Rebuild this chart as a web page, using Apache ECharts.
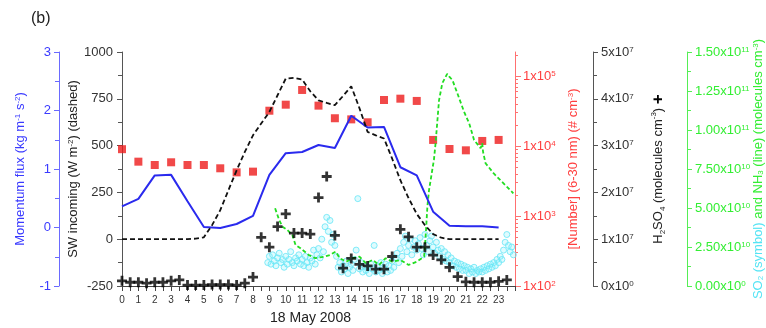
<!DOCTYPE html>
<html>
<head>
<meta charset="utf-8">
<script src="https://cdn.jsdelivr.net/npm/echarts@6/dist/echarts.min.js"></script>
<style>html,body{margin:0;padding:0;background:#fff}#c{width:766px;height:328px}</style>
</head>
<body>
<div id="c"></div>
<script>
// ---- data ----
var hourTicks = [0,1,2,3,4,5,6,7,8,9,10,11,12,13,14,15,16,17,18,19,20,21,22,23];
var numberMajorTicks = [100,1000,10000,100000];
var numberMinorTicks = [200,300,400,500,600,700,800,900,2000,3000,4000,5000,6000,7000,8000,9000,20000,30000,40000,50000,60000,70000,80000,90000,200000];
var momentumHours = [0,1,2,3,4,5,6,7,8,9,10,11,12,13,14,15,16,17,18,19,20,21,22,23];
var momentumValues = [0.36,0.49,0.89,0.90,0.45,0.01,-0.01,0.06,0.20,0.90,1.27,1.29,1.41,1.36,1.91,1.71,1.72,1.03,0.89,0.27,0.03,0.02,0.02,0.00];
var swHours = [0,1,2,3,4,4.5,5,5.5,6,6.5,7,7.5,8,8.5,9,9.5,10,10.5,11,11.5,12,12.5,13,13.5,14,14.5,15,15.5,16,16.5,17,17.5,18,18.5,19,19.5,20,21,22,23];
var swValues = [0,0,0,0,0,3,10,75,155,262,368,466,555,618,680,769,858,862,853,790,742,728,716,765,817,700,573,555,538,430,315,220,135,75,27,8,0,0,0,0];
var numberHours = [0,1,2,3,4,5,6,7,8,9,10,11,12,13,14,15,16,17,18,19,20,21,22,23];
var numberValues = [9000,5970,5350,5850,5350,5350,4800,4200,4300,31900,38900,63100,37700,24900,24000,21800,45400,47400,44000,12200,9060,8670,11800,12200];
var h2so4Hours = [0,0.5,1,1.5,2,2.5,3,3.5,4,4.5,5,5.5,6,6.5,7,7.5,8,8.5,9,9.5,10,10.5,11,11.5,12,12.5,13,13.5,14,14.5,15,15.5,16,16.5,17,17.5,18,18.5,19,19.5,20,20.5,21,21.5,22,22.5,23,23.5];
var h2so4Values = [0.11,0.08,0.08,0.06,0.08,0.08,0.11,0.13,0.02,0.02,0.02,0.03,0.03,0.03,0.02,0.06,0.19,1.04,0.83,1.27,1.54,1.13,1.13,1.11,1.89,2.34,1.08,0.38,0.59,0.46,0.43,0.36,0.36,0.63,1.21,1.05,0.83,0.83,0.66,0.56,0.40,0.20,0.09,0.08,0.08,0.08,0.10,0.13]; // x1e7
var nh3Hours = [9.35,9.6,9.8,10.1,10.4,10.6,10.9,11.4,11.8,12.35,12.7,13.05,13.3,13.7,14.1,14.5,14.9,15.3,15.7,16.1,16.5,17.0,17.5,18.0,18.45,18.55,18.65,18.75,19.05,19.15,19.36,19.56,19.86,20.0,20.18,20.48,20.89,21.2,21.5,21.9,22.0,22.05,22.2,22.7,23.3,23.9];
var nh3Values = [4.98,4.23,3.8,3.59,3.27,2.63,2.42,1.99,1.78,1.88,1.99,2.2,1.78,1.56,1.78,1.88,1.46,1.67,1.35,1.78,1.56,1.67,1.35,1.56,1.88,3.3,5.1,6.15,8.1,9.15,11.9,13.0,13.6,13.4,13.2,12.35,11.17,10.43,9.36,8.83,9.15,8.6,7.87,7.22,6.58,5.94]; // x1e10
var so2Start = 8.9, so2Step = 0.1;
var so2Values = [ // x1e10
 1.5,1.9,1.4,2.0,1.6,1.3,1.8,2.1,1.5,1.7,1.2,
 1.9,1.4,1.7,2.2,1.5,1.3,1.8,1.6,2.0,1.4,
 1.7,1.3,1.9,1.5,1.2,1.8,1.6,2.3,1.4,2.0,
 2.4,1.8,3.0,2.2,3.8,4.4,3.5,4.2,2.8,3.3,
 2.6,1.9,1.2,1.5,0.9,1.3,1.1,1.6,0.8,1.2,
 1.4,1.0,1.7,2.3,5.6,1.1,1.5,0.9,1.3,1.0,
 1.2,0.8,1.4,1.1,2.6,0.9,1.3,1.0,1.5,0.8,
 1.1,1.4,0.9,1.3,1.0,1.6,1.2,1.8,2.1,1.5,
 2.4,1.9,2.8,3.2,2.2,2.6,3.0,2.0,2.5,2.9,
 2.3,2.7,3.1,2.4,2.0,3.3,2.6,2.2,2.9,3.2,
 2.5,2.1,2.8,2.3,1.9,2.4,1.7,2.2,1.6,2.0,
 1.5,1.8,1.3,1.6,1.2,1.5,1.1,1.4,1.0,1.3,
 1.0,1.2,0.8,1.1,0.9,1.2,0.8,1.0,0.9,1.1,
 0.9,1.2,1.0,1.3,1.1,1.4,1.2,1.5,1.3,1.7,
 1.5,1.9,1.7,2.3,2.8,3.3,2.6,2.2,2.5,2.0];

function pairs(xs, ys){ return xs.map(function(x,i){ return [x, ys[i]]; }); }
var so2Data = so2Values.map(function(v,i){ return [+(so2Start + i*so2Step).toFixed(2), v]; });

var FONT = '"Liberation Sans", Arial, sans-serif';
var BLUE = '#3a3aff', BLUEAX = '#6a6aff';
var RED = '#ee1c1c', REDAX = '#ff7070', REDLB = '#ff4040';
var GREEN = '#22dd22', GREENAX = '#55ee55', GREENLB = '#33ee33';
var CYAN = '#66e6f6';
var DARK = '#333';

function supRich(color, size){
  return {
    a: {fontSize: size, color: color, fontFamily: FONT},
    s: {fontSize: Math.round(size*0.65), color: color, fontFamily: FONT, verticalAlign: 'top'}
  };
}
function axisBase(color, lineColor){
  return {
    nameMoveOverlap: false,
    axisLine: {show: true, onZero: false, lineStyle: {color: lineColor, width: 1}},
    axisTick: {show: true, length: 5, lineStyle: {color: lineColor}},
    minorTick: {show: true, splitNumber: 2, length: 4, lineStyle: {color: lineColor}},
    splitLine: {show: false},
    minorSplitLine: {show: false}
  };
}

var yMom = Object.assign(axisBase(BLUE, BLUEAX), {
  type: 'value', position: 'left', offset: 63, min: -1, max: 3, interval: 1,
  axisLabel: {color: BLUE, fontSize: 13, fontFamily: FONT, margin: 8},
  name: '{n|Momentum flux (kg m}{s|-1}{n| s}{s|-2}{n|)}', nameLocation: 'middle', nameGap: 32,
  nameTextStyle: {rich: {n: {fontSize: 13, color: BLUE, fontFamily: FONT}, s: {fontSize: 8, color: BLUE, fontFamily: FONT, verticalAlign: 'top'}}}
});
var ySW = Object.assign(axisBase(DARK, '#555'), {
  type: 'value', position: 'left', offset: 0, min: -250, max: 1000, interval: 250,
  axisLabel: {color: DARK, fontSize: 13, fontFamily: FONT, margin: 9, formatter: function(v){ return String(v); }},
  name: '{n|SW incoming (W m}{s|-2}{n|) (dashed)}', nameLocation: 'middle', nameGap: 42,
  nameTextStyle: {rich: {n: {fontSize: 13, color: '#222', fontFamily: FONT}, s: {fontSize: 8, color: '#222', fontFamily: FONT, verticalAlign: 'top'}}}
});
var yNum = Object.assign(axisBase(RED, REDAX), {
  type: 'log', logBase: 10, position: 'right', offset: 0, min: 100, max: 220000,
  axisTick: {show: true, length: 6, customValues: numberMajorTicks, lineStyle: {color: REDAX}},
  minorTick: {show: false},
  axisLabel: {fontSize: 13, margin: 8, customValues: numberMajorTicks, rich: supRich(REDLB, 13), formatter: function(v){
    var r = Math.round(Math.log10(v));
    return '{a|1x10}{s|' + r + '}';
  }},
  name: '{n|[Number] (6-30 nm) (# cm}{s|-3}{n|)}', nameLocation: 'middle', nameGap: 52,
  nameTextStyle: {rich: {n: {fontSize: 13, color: REDLB, fontFamily: FONT}, s: {fontSize: 8, color: REDLB, fontFamily: FONT, verticalAlign: 'top'}}}
});
var yNumMinor = {
  type: 'log', logBase: 10, position: 'right', offset: 0, min: 100, max: 220000,
  nameMoveOverlap: false,
  axisLine: {show: false, onZero: false},
  axisTick: {show: true, length: 3, customValues: numberMinorTicks, lineStyle: {color: REDAX}},
  axisLabel: {show: false},
  splitLine: {show: false}
};
var yH2 = Object.assign(axisBase(DARK, '#555'), {
  type: 'value', position: 'right', offset: 78, min: 0, max: 5, interval: 1,
  axisLabel: {fontSize: 13, margin: 8, rich: supRich(DARK, 13), formatter: function(v){
    return v === 0 ? '{a|0x10}{s|0}' : '{a|' + v + 'x10}{s|7}';
  }},
  name: '{n|H}{b|2}{n|SO}{b|4}{n| (molecules cm}{s|-3}{n|) }{p|+}', nameLocation: 'middle', nameGap: 57,
  nameTextStyle: {rich: {
    n: {fontSize: 13, color: '#222', fontFamily: FONT},
    s: {fontSize: 8, color: '#222', fontFamily: FONT, verticalAlign: 'top'},
    b: {fontSize: 8, color: '#222', fontFamily: FONT, verticalAlign: 'bottom'},
    p: {fontSize: 17, color: '#000', fontFamily: FONT, fontWeight: 'bold'}
  }}
});
var yGreen = Object.assign(axisBase(GREEN, GREENAX), {
  type: 'value', position: 'right', offset: 172, min: 0, max: 15, interval: 2.5,
  axisLabel: {fontSize: 13, margin: 8, rich: supRich(GREENLB, 13), formatter: function(v){
    if (v === 0) return '{a|0.00x10}{s|0}';
    var actual = v * 1e10; var e = Math.floor(Math.log10(actual) + 1e-9);
    var m = actual / Math.pow(10, e);
    return '{a|' + m.toFixed(2) + 'x10}{s|' + e + '}';
  }},
  name: '{c|SO}{cb|2}{c| (symbol)}{g| and NH}{gb|3}{g| (line) (molecules cm}{gs|-3}{g|)}', nameLocation: 'middle', nameGap: 65,
  nameTextStyle: {rich: {
    c: {fontSize: 13, color: '#55e4f4', fontFamily: FONT},
    cb: {fontSize: 8, color: '#55e4f4', fontFamily: FONT, verticalAlign: 'bottom'},
    g: {fontSize: 13, color: GREENLB, fontFamily: FONT},
    gb: {fontSize: 8, color: GREENLB, fontFamily: FONT, verticalAlign: 'bottom'},
    gs: {fontSize: 8, color: GREENLB, fontFamily: FONT, verticalAlign: 'top'}
  }}
});

var PLUS = 'path://M3.6,0H6.4V3.6H10V6.4H6.4V10H3.6V6.4H0V3.6H3.6Z';

var option = {
  animation: false,
  backgroundColor: '#fff',
  title: {text: '(b)', left: 26, top: 6, textStyle: {fontSize: 16, fontWeight: 'normal', color: '#222', fontFamily: FONT}},
  grid: {left: 122, right: 251, top: 52, bottom: 42, containLabel: false, outerBoundsMode: 'none'},
  xAxis: {
    type: 'value', min: 0, max: 24, interval: 1,
    nameMoveOverlap: false,
    axisLine: {show: true, onZero: false, lineStyle: {color: '#444'}},
    axisTick: {show: true, length: 5, lineStyle: {color: '#444'}},
    minorTick: {show: true, splitNumber: 2, length: 5, lineStyle: {color: '#444'}},
    splitLine: {show: false},
    minorSplitLine: {show: false},
    axisLabel: {color: DARK, fontSize: 10, fontFamily: FONT, margin: 9, formatter: function(v){ return hourTicks.indexOf(v) >= 0 ? String(v) : ''; }},
    name: '18 May 2008', nameLocation: 'middle', nameGap: 25,
    nameTextStyle: {fontSize: 14, color: '#222', fontFamily: FONT, padding: [0, 16, 0, 0]}
  },
  yAxis: [yMom, ySW, yNum, yH2, yGreen, yNumMinor],
  series: [
    {type: 'scatter', name: 'SO2', yAxisIndex: 4, data: so2Data, symbol: 'circle', symbolSize: 6, z: 1,
     itemStyle: {color: 'rgba(140,240,252,0.35)', borderColor: CYAN, borderWidth: 1}},
    {type: 'scatter', name: 'Number', yAxisIndex: 2, data: pairs(numberHours, numberValues), symbol: 'rect', symbolSize: 8, z: 3,
     itemStyle: {color: RED}},
    {type: 'line', name: 'NH3', yAxisIndex: 4, data: pairs(nh3Hours, nh3Values), showSymbol: false, z: 4,
     lineStyle: {color: GREEN, width: 1.8, type: [4, 2.5]}},
    {type: 'line', name: 'Momentum', yAxisIndex: 0, data: pairs(momentumHours, momentumValues), showSymbol: false, z: 5,
     lineStyle: {color: '#2a2aee', width: 2}},
    {type: 'line', name: 'SW', yAxisIndex: 1, data: pairs(swHours, swValues), showSymbol: false, z: 5,
     lineStyle: {color: '#111', width: 1.8, type: [5, 3]}},
    {type: 'scatter', name: 'H2SO4', yAxisIndex: 3, data: pairs(h2so4Hours, h2so4Values), symbol: PLUS, symbolSize: 10, z: 6,
     itemStyle: {color: '#000'}}
  ]
};
var chart = echarts.init(document.getElementById('c'), null, {renderer: 'canvas'});
chart.setOption(option);
</script>
</body>
</html>
